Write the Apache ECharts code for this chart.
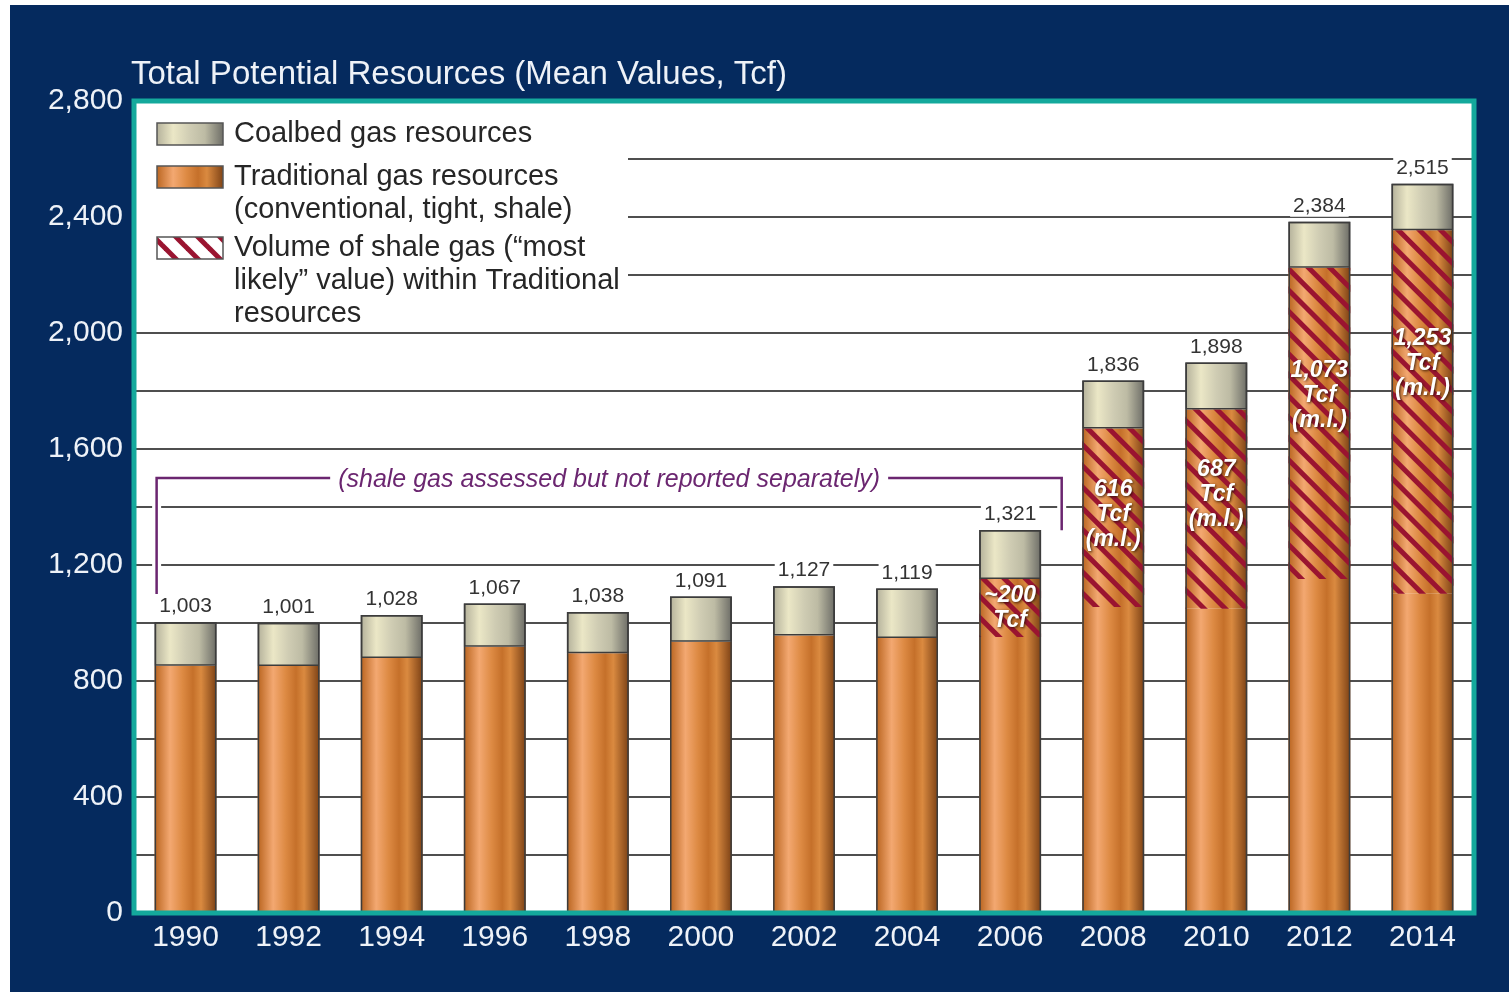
<!DOCTYPE html>
<html>
<head>
<meta charset="utf-8">
<title>Total Potential Resources (Mean Values, Tcf)</title>
<script src="https://cdn.jsdelivr.net/npm/echarts@6/dist/echarts.min.js"></script>
<style>
  html, body { margin: 0; padding: 0; background: #fff; }
  #main { position: absolute; left: 10px; top: 5px; width: 1499px; height: 987px; background: #052a5e; }
</style>
</head>
<body>
<div id="main"></div>
<script>
// ---- data (Tcf, mean values) ----
var years = ['1990', '1992', '1994', '1996', '1998', '2000', '2002', '2004', '2006', '2008', '2010', '2012', '2014'];
var totals = [1003, 1001, 1028, 1067, 1038, 1091, 1127, 1119, 1321, 1836, 1898, 2384, 2515];
var traditional = [853, 852, 879, 918, 896, 935, 957, 948, 1152, 1671, 1736, 2225, 2354];
var shaleMostLikely = [0, 0, 0, 0, 0, 0, 0, 0, 200, 616, 687, 1073, 1253];
var shaleText = ['', '', '', '', '', '', '', '', '~200\nTcf', '616\nTcf\n(m.l.)', '687\nTcf\n(m.l.)', '1,073\nTcf\n(m.l.)', '1,253\nTcf\n(m.l.)'];
var yMax = 2800;
var gridStep = 200;
var labelStep = 400;
// bracket note: years 1990..2006, drawn at these values
var noteText = '(shale gas assessed but not reported separately)';
var noteLevel = 1500, noteLeftEnd = 1100, noteRightEnd = 1320;

// layout only: vertical nudge of the shale labels inside the hatched part
var shaleLabelNudge = [0, 0, 0, 0, 0, 0, 0, 0, 0, -3, -15, -28, -48];

var names = {
    coal: 'Coalbed gas resources',
    trad: 'Traditional gas resources\n(conventional, tight, shale)',
    shale: 'Volume of shale gas (\u201cmost\nlikely\u201d value) within Traditional\nresources'
};

var FONT = "'Liberation Sans', Arial, Helvetica, sans-serif";
var NARROW = "'Liberation Sans Narrow', 'Arial Narrow', 'Liberation Sans', sans-serif";
var GRID = { left: 124, top: 96, right: 35, bottom: 79 };
var W = 1499, H = 987;

var copper = {
    type: 'linear', x: 0, y: 0, x2: 1, y2: 0,
    colorStops: [
        { offset: 0, color: '#b9641f' },
        { offset: 0.25, color: '#f3a871' },
        { offset: 0.45, color: '#dd8a43' },
        { offset: 0.62, color: '#c5702a' },
        { offset: 0.75, color: '#da8a40' },
        { offset: 1, color: '#7c4115' }
    ]
};
var coalbed = {
    type: 'linear', x: 0, y: 0, x2: 1, y2: 0,
    colorStops: [
        { offset: 0, color: '#b3b09a' },
        { offset: 0.25, color: '#ebe7c6' },
        { offset: 0.5, color: '#cfccb3' },
        { offset: 0.72, color: '#bdbba4' },
        { offset: 1, color: '#6c6c66' }
    ]
};

var baseData = traditional.map(function (v, i) { return v - shaleMostLikely[i]; });
var coalData = totals.map(function (v, i) { return v - traditional[i]; });
var shaleData = shaleMostLikely.map(function (v, i) {
    return { value: v, label: { offset: [0, shaleLabelNudge[i]] } };
});

var chart = echarts.init(document.getElementById('main'));

var option = {
    animation: false,
    title: {
        text: 'Total Potential Resources (Mean Values, Tcf)',
        left: 121,
        top: 53,
        padding: 0,
        textStyle: { color: '#eef2f8', fontSize: 33, fontWeight: 'normal', fontFamily: FONT }
    },
    grid: {
        left: GRID.left, top: GRID.top, right: GRID.right, bottom: GRID.bottom,
        show: true, backgroundColor: '#fff', borderWidth: 0
    },
    xAxis: {
        type: 'category',
        data: years,
        axisLine: { show: false },
        axisTick: { show: false },
        axisLabel: { color: '#eef2f8', fontSize: 30, fontFamily: FONT, margin: 10 }
    },
    yAxis: {
        type: 'value',
        min: 0,
        max: yMax,
        interval: gridStep,
        axisLine: { show: false },
        axisTick: { show: false },
        axisLabel: {
            color: '#eef2f8', fontSize: 30, fontFamily: FONT, margin: 11,
            formatter: function (v) { return v % labelStep === 0 ? v.toLocaleString('en-US') : ''; }
        },
        splitLine: { lineStyle: { color: '#4f4f4f', width: 2 } }
    },
    series: [
        {
            name: names.trad,
            type: 'bar',
            stack: 'res',
            barWidth: '60%',
            barGap: '-100%',
            data: baseData,
            itemStyle: { color: copper }
        },
        {
            name: names.shale,
            type: 'bar',
            stack: 'res',
            barWidth: '60%',
            barGap: '-100%',
            data: shaleData,
            itemStyle: {
                color: copper,
                decal: {
                    symbol: 'rect',
                    symbolSize: 1,
                    dashArrayX: [1, 0],
                    dashArrayY: [5, 10],
                    rotation: Math.PI / 4,
                    color: '#9a1430'
                }
            },
            label: {
                show: true,
                position: 'inside',
                formatter: function (p) { return shaleText[p.dataIndex]; },
                color: '#fff',
                fontFamily: NARROW,
                fontWeight: 'bold',
                fontStyle: 'italic',
                fontSize: 23,
                lineHeight: 25,
                textShadowColor: 'rgba(40,15,0,0.9)',
                textShadowBlur: 3,
                textShadowOffsetX: 1,
                textShadowOffsetY: 1
            }
        },
        {
            name: names.coal,
            type: 'bar',
            stack: 'res',
            barWidth: '60%',
            barGap: '-100%',
            data: coalData,
            itemStyle: { color: coalbed, borderColor: '#3c3c3c', borderWidth: 1.5 },
            label: {
                show: true,
                position: 'top',
                distance: 5,
                formatter: function (p) { return totals[p.dataIndex].toLocaleString('en-US'); },
                color: '#333',
                fontFamily: FONT,
                fontSize: 21,
                backgroundColor: '#fff',
                padding: [0, 3]
            }
        },
        {
            name: 'outline',
            type: 'bar',
            barWidth: '60%',
            barGap: '-100%',
            silent: true,
            data: totals,
            z: 3,
            itemStyle: { color: 'rgba(0,0,0,0)', borderColor: '#3c3c3c', borderWidth: 1.5 }
        }
    ]
};
chart.setOption(option);

// striped tile for the hatch legend swatch
function stripeTile() {
    var c = document.createElement('canvas');
    var t = 22;
    c.width = t; c.height = t;
    var g = c.getContext('2d');
    g.fillStyle = '#fff';
    g.fillRect(0, 0, t, t);
    g.strokeStyle = '#9a1430';
    g.lineWidth = 5;
    for (var k = -1; k <= 1; k++) {
        g.beginPath();
        g.moveTo(-2, k * t - 2);
        g.lineTo(t + 2, t + k * t + 2);
        g.stroke();
    }
    return c;
}

function legendItem(y, fill, text) {
    return [
        { type: 'rect', shape: { x: 147, y: y, width: 66, height: 22 },
          style: { fill: fill, stroke: '#555', lineWidth: 1.5 }, z: 20 },
        { type: 'text', x: 224, y: y + 11 - 16.5, z: 20,
          style: { text: text, fill: '#262626', font: '29px ' + FONT, lineHeight: 33, verticalAlign: 'top' } }
    ];
}

function placeGraphics() {
    var px = function (i, v) { return chart.convertToPixel({ gridIndex: 0 }, [i, v]); };
    var band = px(1, 0)[0] - px(0, 0)[0];
    var xl = px(0, 0)[0] - band * 0.3 + 2;
    var xr = (px(8, 0)[0] + px(9, 0)[0]) / 2;
    var yTop = px(0, noteLevel)[1];
    var yL = px(0, noteLeftEnd)[1];
    var yR = px(0, noteRightEnd)[1];
    var pts = [[xl, yL], [xl, yTop], [xr, yTop], [xr, yR]];

    var els = [
        // white legend panel
        { type: 'rect', shape: { x: 126, y: 98, width: 492, height: 224 }, style: { fill: '#fff' }, z: 15 }
    ];
    els = els.concat(legendItem(118, coalbed, names.coal));
    els = els.concat(legendItem(161, copper, names.trad));
    els = els.concat(legendItem(232, { image: stripeTile(), repeat: 'repeat' }, names.shale));
    els.push(
        { type: 'polyline', shape: { points: pts }, style: { stroke: '#fff', lineWidth: 9, fill: null }, z: 15 },
        { type: 'polyline', shape: { points: pts }, style: { stroke: '#6b2670', lineWidth: 2.5, fill: null }, z: 16 },
        { type: 'text', x: (xl + xr) / 2, y: yTop + 2, z: 17,
          style: { text: noteText, fill: '#6b2670', font: 'italic 25px ' + FONT, align: 'center',
                   verticalAlign: 'middle', backgroundColor: '#fff', padding: [2, 8] } },
        // teal frame around the plot
        { type: 'rect', shape: { x: GRID.left, y: GRID.top, width: W - GRID.left - GRID.right, height: H - GRID.top - GRID.bottom },
          style: { fill: null, stroke: '#14a99c', lineWidth: 5 }, z: 30 }
    );
    chart.setOption({ graphic: els });
}
placeGraphics();
</script>
</body>
</html>
